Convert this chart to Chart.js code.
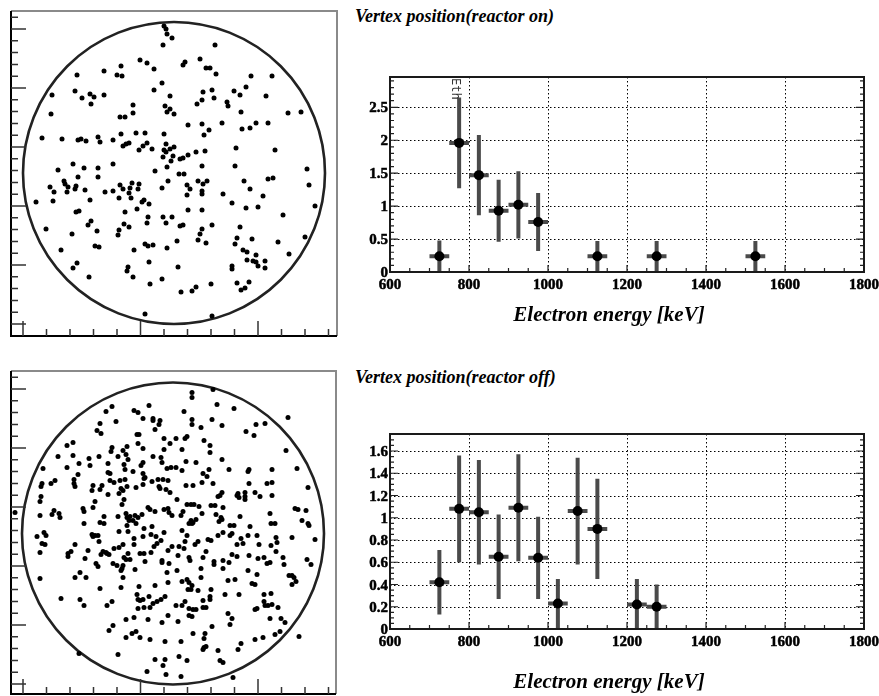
<!DOCTYPE html>
<html>
<head>
<meta charset="utf-8">
<script src="https://cdn.jsdelivr.net/npm/chart.js@4.4.0/dist/chart.umd.min.js"></script>
<style>
  body { margin: 0; background: #fff; width: 879px; height: 696px; position: relative; overflow: hidden; }
  .box { position: absolute; }
  .label { position: absolute; font: italic bold 18px "Liberation Serif", serif; color: #000; white-space: nowrap; }
  .axis-title { position: absolute; font: italic bold 21px "Liberation Serif", serif; color: #000; white-space: nowrap; transform: translateX(-50%); }
  .tick { position: absolute; font: bold 15px/15px "Liberation Serif", serif; color: #000; white-space: nowrap; -webkit-text-stroke: 0.5px #000; }
  .eth { position: absolute; font: 12px/14px "DejaVu Sans Mono", monospace; color: #333; writing-mode: vertical-rl; }
</style>
</head>
<body>
<div class="box" style="left:6px;top:6px;width:336px;height:335px"><canvas id="vertexOn"></canvas></div>
<div class="box" style="left:6px;top:366px;width:335px;height:333px"><canvas id="vertexOff"></canvas></div>
<div class="box" style="left:340px;top:60px;width:539px;height:270px"><canvas id="energyOn"></canvas></div>
<div class="box" style="left:340px;top:420px;width:539px;height:276px"><canvas id="energyOff"></canvas></div>

<div class="label" style="left:355px;top:6px">Vertex position(reactor on)</div>
<div class="label" style="left:355px;top:367px">Vertex position(reactor off)</div>
<div class="axis-title" style="left:609px;top:302px">Electron energy [keV]</div>
<div class="axis-title" style="left:609px;top:669px">Electron energy [keV]</div>

<script>
// energy spectra (bins of 50 keV, value at bin centre)
const energyTicks = [600, 800, 1000, 1200, 1400, 1600, 1800];
const onYTicks = [0, 0.5, 1, 1.5, 2, 2.5];
const offYTicks = [0, 0.2, 0.4, 0.6, 0.8, 1, 1.2, 1.4, 1.6];

const onEnergy = [725, 775, 825, 875, 925, 975, 1125, 1275, 1525];
const onValue = [0.24, 1.96, 1.47, 0.93, 1.02, 0.76, 0.24, 0.24, 0.24];
const onError = [0.24, 0.69, 0.61, 0.47, 0.51, 0.44, 0.23, 0.23, 0.23];

const offEnergy = [725, 775, 825, 875, 925, 975, 1025, 1075, 1125, 1225, 1275];
const offValue = [0.42, 1.08, 1.05, 0.65, 1.09, 0.64, 0.23, 1.06, 0.90, 0.22, 0.20];
const offError = [0.29, 0.48, 0.47, 0.38, 0.48, 0.37, 0.22, 0.48, 0.45, 0.23, 0.20];

const ethEnergy = 767;

// vertex positions, centre of detector at 0,0
const vertexOn = [
  [-10,147],[-8,144],[-7,139],[-2,135],[-11,128],[-34,113],[-27,110],[-20,104],[-53,107],[-70,102],[-57,98],[-52,97],[-97,98],
  [-12,90],[-20,83],[-99,82],[-122,78],[-92,75],[-84,79],[-80,76],[-83,69],[-70,78],[-4,77],[-41,68],[-9,67],[-4,64],[-7,61],
  [0,59],[-41,60],[-54,56],[-49,56],[-123,59],[-132,35],[-112,34],[-96,33],[-93,34],[-88,32],[-76,36],[-74,31],[-61,33],[-53,39],
  [-38,40],[-29,40],[-10,39],[-51,27],[-48,29],[-45,30],[-35,23],[-31,27],[-27,30],[-22,24],[-10,23],[-8,21],[-4,24],[0,26],
  [-8,29],[-11,16],[-1,17],[-3,12],[-7,6],[-19,2],[-116,3],[-101,9],[-90,5],[-76,5],[-61,9],
  [41,128],[26,114],[9,108],[11,111],[32,105],[36,105],[42,99],[77,97],[98,97],[72,86],[60,82],[66,78],[92,77],[29,81],[38,83],
  [40,75],[28,73],[23,69],[53,71],[54,67],[67,61],[114,60],[127,61],[14,48],[28,49],[35,43],[30,38],[48,50],[68,44],[76,45],
  [82,50],[94,50],[62,25],[101,23],[6,14],[9,15],[14,18],[22,21],[31,22],[28,7],[61,7],[133,4],
  [-96,-4],[-76,-4],[-6,-8],[-124,-14],[-120,-19],[-110,-8],[-109,-11],[-106,-14],[-107,-19],[-99,-16],[-98,-13],[-89,-17],
  [-84,-27],[-138,-29],[-121,-28],[-69,-19],[-61,-18],[-54,-12],[-51,-16],[-45,-20],[-44,-15],[-42,-10],[-35,-11],[-36,-16],
  [-43,-25],[-55,-25],[-32,-29],[-30,-27],[-25,-31],[-37,-36],[-12,-15],[-98,-39],[-95,-38],[-49,-39],[-26,-44],[-27,-50],
  [-11,-44],[-2,-44],[-8,-50],[-86,-52],[-83,-48],[-50,-51],[-45,-54],[-55,-57],[-56,-62],[-77,-58],[-102,-61],[-128,-56],
  [-113,-77],[-79,-73],[-75,-74],[-40,-77],[-29,-71],[-26,-73],[-21,-72],[-7,-75],[-25,-89],[-101,-95],[-97,-90],[-46,-94],
  [-47,-98],[-41,-104],[-85,-104],[-12,-106],[-24,-111],[-29,-141],
  [5,-1],[10,-1],[13,-12],[16,-16],[24,-8],[29,-11],[33,-8],[28,-18],[28,-21],[13,-22],[49,-21],[70,-8],[76,-16],[94,-6],[99,-5],
  [89,-23],[135,-12],[141,-33],[58,-30],[72,-35],[84,-34],[14,-37],[28,-37],[109,-42],[38,-52],[6,-53],[9,-52],[28,-56],[26,-61],
  [24,-67],[32,-70],[3,-68],[66,-54],[63,-65],[61,-71],[78,-66],[104,-69],[131,-64],[115,-81],[69,-77],[73,-79],[82,-82],[73,-87],
  [79,-88],[82,-89],[84,-93],[91,-88],[91,-95],[58,-93],[58,-96],[4,-94],[37,-111],[22,-114],[18,-118],[7,-119],[63,-110],
  [67,-117],[71,-115],[75,-109],[38,-143]
];

const vertexOff = [
  [-24,128],[-61,127],[-67,122],[-39,123],[-35,121],[-30,115],[-20,115],[-20,113],[-13,113],[-14,109],[-57,112],[-73,110],[-76,103],
  [-72,100],[-18,104],[-36,99],[-34,99],[-35,90],[-9,95],[-106,88],[-100,91],[-61,86],[-62,82],[-50,83],[-46,87],[-47,79],[-45,74],
  [-30,85],[-20,77],[-12,76],[-9,84],[-3,90],[-115,77],[-100,78],[-84,75],[-83,68],[-74,77],[-65,70],[-55,77],[-49,69],[-40,62],
  [-48,64],[-32,68],[-30,71],[-30,60],[-28,56],[-11,71],[-6,65],[-2,66],[-130,65],[-106,66],[-94,70],[-95,59],[-99,54],[-99,50],
  [-98,47],[-118,53],[-122,50],[-131,50],[-132,47],[-80,48],[-71,48],[-81,43],[-73,44],[-65,61],[-63,60],[-63,53],[-59,51],[-53,53],
  [-48,54],[-46,47],[-52,45],[-54,40],[-50,43],[-49,34],[-51,29],[-37,46],[-30,49],[-29,55],[-21,52],[-15,54],[-10,54],[-5,53],
  [-14,47],[-13,45],[-7,44],[-3,41],[-132,37],[-133,32],[-65,39],[-78,32],[-80,26],[-119,23],[-121,19],[-114,20],[-113,16],
  [-133,18],[-158,21],[-90,25],[-89,22],[-69,17],[-73,11],[-69,10],[-89,10],[-55,17],[-47,20],[-46,16],[-43,17],[-44,13],[-38,18],
  [-35,16],[-31,19],[-25,26],[-23,24],[-18,22],[-9,24],[-4,21],[-5,25],[-1,18],[-46,8],[-40,13],[-37,10],[-29,5],[-21,7],
  [19,141],[19,136],[40,144],[44,129],[61,125],[11,122],[115,116],[19,114],[19,109],[28,106],[39,114],[49,108],[73,102],[81,98],
  [83,109],[92,110],[12,95],[14,97],[3,95],[31,93],[37,88],[37,81],[9,84],[113,83],[13,72],[23,71],[3,66],[9,63],[30,60],[36,64],
  [34,57],[49,74],[56,64],[76,64],[75,62],[99,64],[124,65],[13,48],[20,48],[29,51],[40,50],[49,41],[47,38],[45,37],[76,50],[94,50],
  [99,51],[64,38],[65,40],[66,36],[72,41],[72,37],[72,34],[82,41],[87,37],[99,38],[135,46],[4,34],[14,29],[18,29],[21,29],[26,27],
  [38,28],[42,28],[50,26],[10,22],[8,18],[18,13],[16,10],[19,10],[20,11],[23,14],[29,20],[43,19],[48,16],[49,14],[46,12],[57,8],
  [61,8],[67,17],[77,7],[97,20],[98,10],[102,10],[122,25],[125,24],[133,23],[129,13],[135,10],[136,8],
  [-136,-3],[-131,-10],[-129,1],[-127,-2],[-128,-11],[-133,-19],[-98,-11],[-105,-23],[-105,-20],[-102,-18],[-88,-25],[-85,-17],
  [-93,-39],[-98,-44],[-87,-44],[-133,-45],[-81,-1],[-80,-3],[-78,-2],[-75,-2],[-74,-8],[-70,-18],[-72,-21],[-67,-19],[-66,-20],
  [-64,-21],[-59,-15],[-54,-14],[-50,-11],[-54,2],[-45,2],[-77,-30],[-75,-33],[-60,-30],[-56,-32],[-52,-37],[-51,-35],[-50,-32],
  [-50,-44],[-47,-26],[-49,-24],[-43,-26],[-45,-20],[-39,-5],[-39,-11],[-38,-36],[-33,-20],[-29,-20],[-28,-28],[-22,-19],[-19,-13],
  [-30,-3],[-22,-1],[-17,-3],[-16,-10],[-12,-7],[-9,1],[-5,-17],[-1,-13],[-11,-27],[-11,-29],[-4,-30],[-6,-39],[-73,-55],[-52,-54],
  [-34,-53],[-18,-52],[-5,-49],[-112,-65],[-93,-66],[-89,-72],[-66,-72],[-61,-68],[-36,-61],[-35,-66],[-33,-67],[-30,-66],[-24,-63],
  [-20,-70],[-16,-68],[-12,-66],[-8,-63],[-35,-75],[-29,-74],[-23,-74],[-47,-86],[-39,-84],[-25,-86],[-11,-89],[-5,-82],[-64,-97],
  [-60,-92],[-47,-104],[-41,-100],[-37,-98],[-33,-104],[-23,-106],[-8,-108],[-94,-120],[-55,-121],[-18,-126],[-8,-126],[-10,-132],
  [-26,-138],[-7,-141],
  [9,3],[50,1],[14,-2],[6,-13],[11,-15],[12,-8],[22,-11],[25,-8],[35,-6],[38,-7],[45,-2],[57,-2],[59,0],[64,-11],[68,-5],[70,-10],
  [75,-2],[84,-2],[86,-11],[98,-12],[103,-4],[103,-18],[104,-9],[119,-4],[142,-6],[5,-22],[16,-24],[17,-27],[30,-24],[33,-18],
  [41,-28],[41,-31],[50,-27],[50,-35],[56,-29],[59,-21],[64,-23],[76,-22],[85,-25],[91,-24],[94,-30],[97,-29],[110,-24],[111,-31],
  [134,-26],[138,-31],[4,-37],[28,-35],[28,-44],[9,-48],[14,-46],[16,-49],[15,-56],[18,-56],[19,-52],[25,-57],[38,-56],[37,-63],
  [37,-66],[55,-47],[62,-46],[75,-37],[84,-41],[79,-50],[82,-51],[66,-61],[52,-61],[91,-61],[98,-60],[116,-42],[119,-42],[121,-44],
  [123,-48],[119,-51],[12,-68],[3,-72],[9,-72],[16,-75],[20,-76],[23,-76],[19,-83],[16,-82],[5,-88],[30,-67],[30,-74],[33,-74],
  [55,-80],[59,-85],[57,-91],[82,-76],[84,-75],[91,-68],[92,-72],[95,-72],[99,-71],[105,-74],[97,-85],[108,-85],[112,-89],[20,-100],
  [32,-100],[31,-105],[39,-93],[8,-108],[31,-114],[33,-113],[30,-116],[68,-110],[65,-116],[45,-117],[90,-104],[82,-106],[102,-101],
  [107,-98],[126,-103],[6,-123],[14,-127],[47,-127],[50,-129],[8,-143],[60,-144]
];

const detectorRadius = 151;

// circle, frame and inner ticks of the vertex plots
const vertexFrame = {
  id: 'vertexFrame',
  beforeDatasetsDraw(chart, args, opts) {
    const { ctx, scales: { x, y } } = chart;
    const cx = x.getPixelForValue(0), cy = y.getPixelForValue(0);
    const rx = x.getPixelForValue(opts.radius) - cx;
    const ry = cy - y.getPixelForValue(opts.radius);
    ctx.save();
    ctx.strokeStyle = '#222';
    ctx.lineWidth = 2.6;
    ctx.beginPath();
    ctx.ellipse(cx, cy, rx, ry, 0, 0, Math.PI * 2);
    ctx.stroke();
    ctx.restore();
  },
  afterDraw(chart, args, opts) {
    const { ctx, chartArea: a, scales: { x, y } } = chart;
    ctx.save();
    ctx.lineWidth = 2;
    ctx.strokeStyle = '#8a8a8a';
    ctx.beginPath();
    ctx.moveTo(a.left, a.top); ctx.lineTo(a.right, a.top); ctx.lineTo(a.right, a.bottom);
    ctx.stroke();
    ctx.strokeStyle = '#000';
    ctx.beginPath();
    ctx.moveTo(a.left, a.top); ctx.lineTo(a.left, a.bottom); ctx.lineTo(a.right, a.bottom);
    ctx.stroke();

    ctx.lineWidth = 1.5;
    ctx.strokeStyle = '#333';
    ctx.beginPath();
    for (let k = 0; ; k++) {
      const v = opts.xStart + k * opts.xStep;
      if (v > x.max) break;
      const p = x.getPixelForValue(v);
      ctx.moveTo(p, a.bottom);
      ctx.lineTo(p, a.bottom - (k % 5 === 0 ? 15 : 7));
    }
    for (let k = 0; ; k++) {
      const v = opts.yStart + k * opts.yStep;
      if (v > y.max) break;
      const p = y.getPixelForValue(v);
      ctx.moveTo(a.left, p);
      ctx.lineTo(a.left + (k % 5 === 0 ? 15 : 7), p);
    }
    ctx.stroke();
    ctx.restore();
  }
};

function vertexChart(id, points, range, ticks) {
  new Chart(document.getElementById(id), {
    type: 'scatter',
    data: {
      datasets: [{
        data: points.map(p => ({ x: p[0], y: p[1] })),
        backgroundColor: '#000',
        borderWidth: 0,
        pointRadius: 2.5,
        pointHoverRadius: 2.5
      }]
    },
    options: {
      responsive: true,
      maintainAspectRatio: false,
      animation: false,
      layout: { padding: 5 },
      plugins: {
        legend: { display: false },
        tooltip: { enabled: false },
        vertexFrame: Object.assign({ radius: detectorRadius }, ticks)
      },
      scales: {
        x: { type: 'linear', display: false, min: range[0], max: range[1] },
        y: { type: 'linear', display: false, min: range[2], max: range[3] }
      }
    },
    plugins: [vertexFrame]
  });
}

vertexChart('vertexOn', vertexOn, [-163, 163, -163, 162],
  { xStart: -151, xStep: 23.5, yStart: -151, yStep: 11.8 });
vertexChart('vertexOff', vertexOff, [-162, 163, -160.5, 162.5],
  { xStart: -150, xStep: 23.5, yStart: -150.5, yStep: 11.8 });

// error bars of the spectra
const errorBars = {
  id: 'errorBars',
  beforeDatasetsDraw(chart, args, opts) {
    const { ctx, scales: { x, y } } = chart;
    ctx.save();
    ctx.strokeStyle = '#4a4a4a';
    ctx.lineWidth = 4;
    ctx.beginPath();
    opts.energy.forEach((e, i) => {
      const v = opts.value[i], err = opts.error[i];
      const px = x.getPixelForValue(e), py = y.getPixelForValue(v);
      ctx.moveTo(px, y.getPixelForValue(Math.max(0, v - err)));
      ctx.lineTo(px, y.getPixelForValue(v + err));
      ctx.moveTo(x.getPixelForValue(e - 25), py);
      ctx.lineTo(x.getPixelForValue(e + 25), py);
    });
    ctx.stroke();
    ctx.restore();
  }
};

// tick labels as html text placed with the chart's scales
function addText(box, cls, text, left, top, transform) {
  const d = document.createElement('div');
  d.className = cls;
  d.textContent = text;
  d.style.left = left + 'px';
  d.style.top = top + 'px';
  if (transform) d.style.transform = transform;
  box.appendChild(d);
}

// dotted grid, frame and ticks of the spectra
const histFrame = {
  id: 'histFrame',
  beforeDatasetsDraw(chart, args, opts) {
    const { ctx, chartArea: a, scales: { x, y } } = chart;
    ctx.save();
    ctx.strokeStyle = '#000';
    ctx.lineWidth = 1;
    ctx.setLineDash([1.5, 2.5]);
    ctx.beginPath();
    energyTicks.filter(v => v > x.min && v < x.max).forEach(v => {
      const p = Math.round(x.getPixelForValue(v)) + 0.5;
      ctx.moveTo(p, a.top); ctx.lineTo(p, a.bottom);
    });
    opts.yTicks.filter(v => v > y.min).forEach(v => {
      const p = Math.round(y.getPixelForValue(v)) + 0.5;
      ctx.moveTo(a.left, p); ctx.lineTo(a.right, p);
    });
    ctx.stroke();
    ctx.restore();
  },
  afterDraw(chart, args, opts) {
    const { ctx, chartArea: a, scales: { x, y } } = chart;
    ctx.save();
    ctx.strokeStyle = '#222';
    ctx.lineWidth = 1.2;
    ctx.beginPath();
    for (let v = x.min; v <= x.max; v += 50) {
      const p = x.getPixelForValue(v);
      const len = v % 200 === 0 ? 7 : 4;
      ctx.moveTo(p, a.bottom); ctx.lineTo(p, a.bottom - len);
    }
    const n = Math.floor(y.max / opts.yMinor + 1e-6);
    for (let k = 0; k <= n; k++) {
      const v = k * opts.yMinor;
      const p = y.getPixelForValue(v);
      const major = opts.yTicks.some(t => Math.abs(t - v) < 1e-6);
      const len = major ? 8 : 4;
      ctx.moveTo(a.left, p); ctx.lineTo(a.left + len, p);
      ctx.moveTo(a.right, p); ctx.lineTo(a.right - len, p);
    }
    ctx.stroke();
    ctx.lineWidth = 2;
    ctx.strokeStyle = '#1a1a1a';
    ctx.strokeRect(a.left, a.top, a.right - a.left, a.bottom - a.top);
    ctx.restore();
  },
  afterRender(chart, args, opts) {
    if (chart.$labelsDone) return;
    chart.$labelsDone = true;
    const { chartArea: a, scales: { x, y } } = chart;
    const box = chart.canvas.parentNode;
    energyTicks.forEach(v => addText(box, 'tick', String(v), x.getPixelForValue(v), a.bottom + 5, 'translateX(-50%)'));
    opts.yTicks.forEach(v => addText(box, 'tick', String(v), a.left - 2, y.getPixelForValue(v), 'translate(-100%, -50%)'));
    if (opts.eth) addText(box, 'eth', 'Eth', x.getPixelForValue(opts.eth) - 7, a.top + 1);
  }
};

function spectrumChart(id, energy, value, error, yTicks, yMax, yMinor, padTop, padBottom, eth) {
  new Chart(document.getElementById(id), {
    type: 'scatter',
    data: {
      datasets: [{
        data: energy.map((e, i) => ({ x: e, y: value[i] })),
        backgroundColor: '#000',
        borderWidth: 0,
        pointRadius: 5,
        pointHoverRadius: 5
      }]
    },
    options: {
      responsive: true,
      maintainAspectRatio: false,
      animation: false,
      layout: { padding: { top: padTop, right: 15, left: 50, bottom: padBottom } },
      plugins: {
        legend: { display: false },
        tooltip: { enabled: false },
        errorBars: { energy: energy, value: value, error: error },
        histFrame: { yTicks: yTicks, yMinor: yMinor, eth: eth }
      },
      scales: {
        x: { type: 'linear', display: false, min: 600, max: 1800 },
        y: { type: 'linear', display: false, min: 0, max: yMax }
      }
    },
    plugins: [histFrame, errorBars]
  });
}

spectrumChart('energyOn', onEnergy, onValue, onError, onYTicks, 2.96, 0.1, 17, 58, ethEnergy);
spectrumChart('energyOff', offEnergy, offValue, offError, offYTicks, 1.753, 0.05, 14, 67, null);
</script>
</body>
</html>
